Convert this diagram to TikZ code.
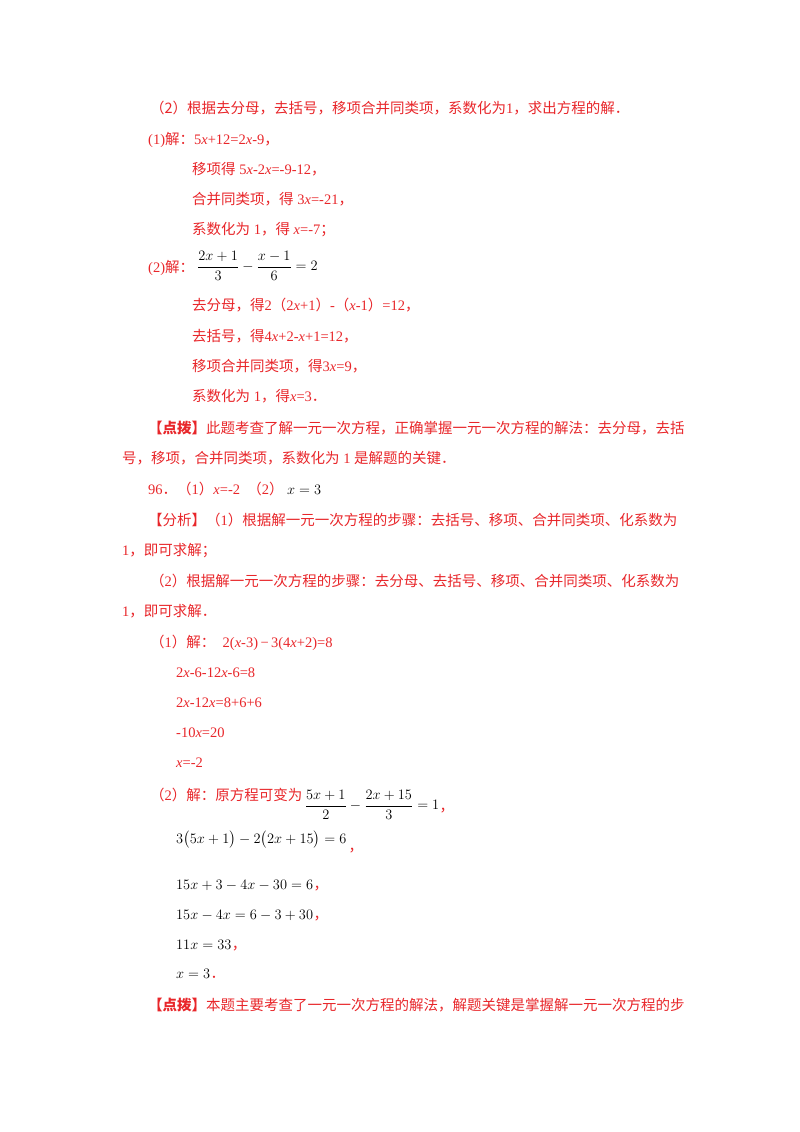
\documentclass[tikz,border=0pt]{standalone}
\usepackage{amsmath}
\usepackage{fontspec}
\setmainfont{Liberation Serif}
\newfontfamily\cjk{Noto Sans CJK SC}
\definecolor{rd}{HTML}{E8262A}
\begin{document}
\begin{tikzpicture}[x=1pt,y=-1pt,
  t/.style={anchor=base west,inner sep=0,text=rd,font=\fontsize{14.5}{18}\selectfont},
  m/.style={anchor=base west,inner sep=0,text=black,font=\fontsize{14.5}{18}\selectfont}]
\useasboundingbox (0,0) rectangle (800,1132);
\newcommand\cx[1]{{\cjk #1}}
\newcommand\vx{\textit{x}}
\node[t] (l1) at (150,113) {\cx{（2）根据去分母，去括号，移项合并同类项，系数化为}1\cx{，求出方程的解．}};
\node[t] (l2) at (148,144) {(1)\cx{解：}5\vx+12=2\vx-9\cx{，}};
\node[t] (l3) at (192,174) {\cx{移项得} 5\vx-2\vx=-9-12\cx{，}};
\node[t] (l4) at (192,204) {\cx{合并同类项，得} 3\vx=-21\cx{，}};
\node[t] (l5) at (192,234) {\cx{系数化为} 1\cx{，得} \vx=-7\cx{；}};
\node[t] (l6) at (148,272) {(2)\cx{解：}};
\node[m,anchor=west] (f1) at (197,266) {$\dfrac{2x+1}{3}-\dfrac{x-1}{6}=2$};
\node[t] (l7) at (192,310) {\cx{去分母，得}2\cx{（}2\vx+1\cx{）}-\cx{（}\vx-1\cx{）}=12\cx{，}};
\node[t] (l8) at (192,341) {\cx{去括号，得}4\vx+2-\vx+1=12\cx{，}};
\node[t] (l9) at (192,371) {\cx{移项合并同类项，得}3\vx=9\cx{，}};
\node[t] (l10) at (192,401) {\cx{系数化为} 1\cx{，得}\vx=3\cx{．}};
\node[t] (l11) at (148,433) {\cx{\textbf{【点拨】}此题考查了解一元一次方程，正确掌握一元一次方程的解法：去分母，去括}};
\node[t] (l12) at (122,463) {\cx{号，移项，合并同类项，系数化为} 1 \cx{是解题的关键．}};
\node[t] (l13) at (148,494) {96\cx{．（}1\cx{）}\vx=-2\ \ \cx{（}2\cx{）}};
\node[m] (l13b) at (l13.base east) [xshift=3pt] {$x=3$};
\node[t] (l14) at (148,525) {\cx{【分析】（}1\cx{）根据解一元一次方程的步骤：去括号、移项、合并同类项、化系数为}};
\node[t] (l15) at (122,555) {1\cx{，即可求解；}};
\node[t] (l16) at (150,586) {\cx{（}2\cx{）根据解一元一次方程的步骤：去分母、去括号、移项、合并同类项、化系数为}};
\node[t] (l17) at (122,616) {1\cx{，即可求解．}};
\node[t] (l18) at (150,647) {\cx{（}1\cx{）解：}\ \ 2(\vx-3)\,\textminus\,3(4\vx+2)=8};
\node[t] (l19) at (176,677) {2\vx-6-12\vx-6=8};
\node[t] (l20) at (176,707) {2\vx-12\vx=8+6+6};
\node[t] (l21) at (176,737) {-10\vx=20};
\node[t] (l22) at (176,767) {\vx=-2};
\node[t] (l23) at (150,800) {\cx{（}2\cx{）解：原方程可变为}};
\node[m,anchor=west] (f2) at ([xshift=2pt,yshift=-5pt]l23.base east) {$\dfrac{5x+1}{2}-\dfrac{2x+15}{3}=1$};
\node[t] (c23) at ([yshift=-6pt]f2.east) [anchor=base west] {\cx{，}};
\node[m] (l24) at (176,843) {$3\bigl(5x+1\bigr)-2\bigl(2x+15\bigr)=6$};
\node[t] (c24) at ([xshift=2pt,yshift=-8pt]l24.base east) {\cx{，}};
\node[m] (l25) at (176,889) {$15x+3-4x-30=6$};
\node[t] at (l25.base east) {\cx{，}};
\node[m] (l26) at (176,919) {$15x-4x=6-3+30$};
\node[t] at (l26.base east) {\cx{，}};
\node[m] (l27) at (176,949) {$11x=33$};
\node[t] at (l27.base east) {\cx{，}};
\node[m] (l28) at (176,978) {$x=3$};
\node[t] at (l28.base east) {\cx{．}};
\node[t] (l29) at (148,1010) {\cx{\textbf{【点拨】}本题主要考查了一元一次方程的解法，解题关键是掌握解一元一次方程的步}};
\end{tikzpicture}
\end{document}
